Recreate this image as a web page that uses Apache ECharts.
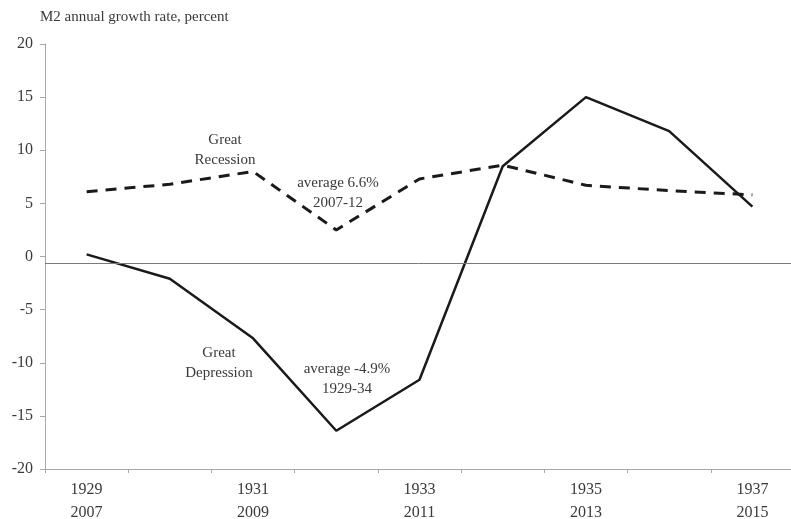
<!DOCTYPE html>
<html>
<head>
<meta charset="utf-8">
<script src="https://cdn.jsdelivr.net/npm/echarts@6/dist/echarts.min.js"></script>
<style>html,body{margin:0;padding:0;background:#fff;}#c{width:791px;height:519px;}</style>
</head>
<body>
<div id="c"></div>
<script>
const depressionYears = ['1929','1930','1931','1932','1933','1934','1935','1936','1937'];
const recessionYears  = ['2007','2008','2009','2010','2011','2012','2013','2014','2015'];
const depression = [0.2, -2.1, -7.7, -16.4, -11.6, 8.5, 15.0, 11.8, 4.7];
const recession  = [6.1, 6.8, 8.0, 2.5, 7.3, 8.6, 6.7, 6.2, 5.8];
const yTicks = [-20, -15, -10, -5, 0, 5, 10, 15, 20];
const baseLineValue = -0.65;

const categories = depressionYears.map((y, i) => y + '\n' + recessionYears[i]);
const font = '"Liberation Serif", "DejaVu Serif", serif';
const txt = '#3a3a3a';
const axisCol = '#a8a8a8';

const chart = echarts.init(document.getElementById('c'), null, {renderer: 'canvas'});
chart.setOption({
  animation: false,
  backgroundColor: '#fff',
  textStyle: {fontFamily: font},
  grid: {left: 45, top: 44, width: 749, bottom: 50, containLabel: false, outerBoundsMode: 'none'},
  xAxis: {
    type: 'category',
    data: categories,
    boundaryGap: true,
    axisLine: {onZero: false, lineStyle: {color: axisCol, width: 1}},
    axisTick: {show: true, length: 4, interval: 0, lineStyle: {color: axisCol}},
    axisLabel: {
      interval: 1, color: txt, fontFamily: font, fontSize: 16,
      lineHeight: 23, margin: 9
    }
  },
  yAxis: {
    type: 'value',
    min: yTicks[0], max: yTicks[yTicks.length - 1], interval: 5,
    splitLine: {show: false},
    axisLine: {show: true, lineStyle: {color: axisCol, width: 1}},
    axisTick: {show: true, length: 5, lineStyle: {color: axisCol}},
    axisLabel: {color: txt, fontFamily: font, fontSize: 16, margin: 12}
  },
  series: [
    {
      name: 'Great Depression', type: 'line', data: depression,
      symbol: 'none', lineStyle: {color: '#1a1a1a', width: 2.5},
      markLine: {
        silent: true, symbol: 'none', label: {show: false},
        lineStyle: {color: '#7a7a7a', width: 1, type: 'solid'},
        data: [{yAxis: baseLineValue}]
      }
    },
    {
      name: 'Great Recession', type: 'line', data: recession,
      symbol: 'none', lineStyle: {color: '#1a1a1a', width: 3, type: [11, 8]}
    }
  ],
  graphic: [
    {type: 'text', left: 40, top: 10, style: {text: 'M2 annual growth rate, percent', fill: txt, font: '15px ' + font}},
    {type: 'text', x: 225, y: 130, style: {text: 'Great\nRecession', fill: txt, font: '15px ' + font, textAlign: 'center', lineHeight: 20}},
    {type: 'text', x: 338, y: 173, style: {text: 'average 6.6%\n2007-12', fill: txt, font: '15px ' + font, textAlign: 'center', lineHeight: 20}},
    {type: 'text', x: 219, y: 343, style: {text: 'Great\nDepression', fill: txt, font: '15px ' + font, textAlign: 'center', lineHeight: 20}},
    {type: 'text', x: 347, y: 359, style: {text: 'average -4.9%\n1929-34', fill: txt, font: '15px ' + font, textAlign: 'center', lineHeight: 20}}
  ]
});
</script>
</body>
</html>
